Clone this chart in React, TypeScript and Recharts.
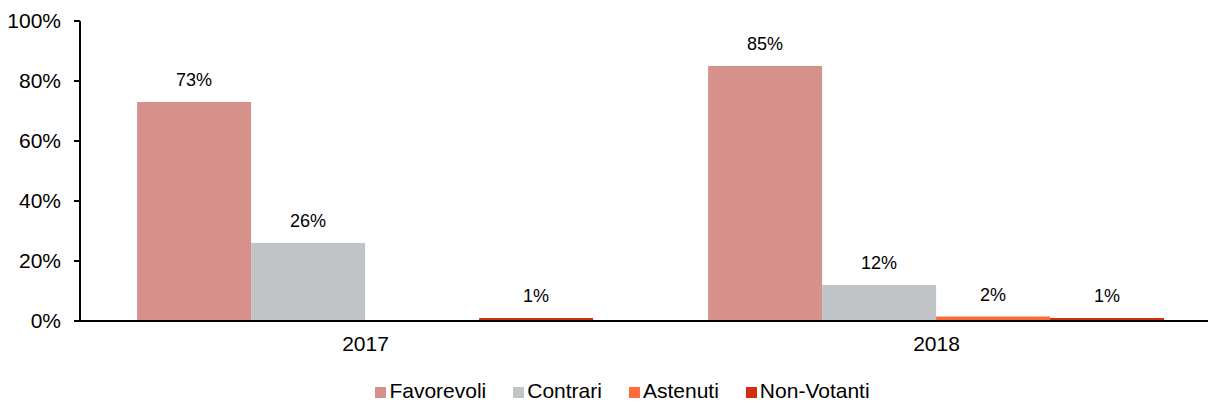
import { BarChart, Bar, XAxis, YAxis, Legend, LabelList } from 'recharts'

const years = ['2017', '2018']
const favorevoli = [73, 85]
const contrari = [26, 12]
const astenuti = [0, 1.5]
const nonVotanti = [1, 1]
const yTicks = [0, 20, 40, 60, 80, 100]

const series = [
  { key: 'favorevoli', name: 'Favorevoli', color: '#D6928A' },
  { key: 'contrari', name: 'Contrari', color: '#C0C4C6' },
  { key: 'astenuti', name: 'Astenuti', color: '#FF6B3A' },
  { key: 'nonVotanti', name: 'Non-Votanti', color: '#D2300C' },
]

const data = years.map((year, i) => ({
  year,
  favorevoli: favorevoli[i],
  contrari: contrari[i],
  astenuti: astenuti[i],
  nonVotanti: nonVotanti[i],
}))

const font = 'Arial, "Liberation Sans", sans-serif'

const pct = (v: unknown) => {
  const n = Number(v)
  return n > 0 ? `${Math.round(n)}%` : ''
}

// legend drawn by hand so the spacing between items matches
function LegendContent() {
  return (
    <div
      style={{
        display: 'flex',
        justifyContent: 'center',
        gap: 27,
        height: 24,
        alignItems: 'center',
        fontFamily: font,
        fontSize: 21,
        color: '#000',
        paddingLeft: 23,
      }}
    >
      {series.map((s) => (
        <div key={s.key} style={{ display: 'flex', alignItems: 'center' }}>
          <span style={{ width: 11, height: 11, background: s.color, marginRight: 3, marginTop: 3 }} />
          <span>{s.name}</span>
        </div>
      ))}
    </div>
  )
}

export default function App() {
  return (
    <div style={{ position: 'absolute', left: 0, top: 0, width: 1208, height: 403, overflow: 'hidden', background: '#fff' }}>
      <BarChart
        width={1222}
        height={403}
        data={data}
        margin={{ top: 21, right: 0, left: 0, bottom: 0 }}
        barCategoryGap="10%"
        barGap={0}
      >
        <XAxis
          dataKey="year"
          height={58}
          tickLine={false}
          tickSize={0}
          tickMargin={15}
          axisLine={{ stroke: '#000', strokeWidth: 2 }}
          tick={{ fontSize: 21, fill: '#000', fontFamily: font }}
        />
        <YAxis
          width={80}
          domain={[0, 100]}
          ticks={yTicks}
          tickFormatter={(v) => `${v}%`}
          tickSize={6}
          tickMargin={13}
          axisLine={{ stroke: '#000', strokeWidth: 2 }}
          tickLine={{ stroke: '#000', strokeWidth: 2 }}
          tick={{ fontSize: 21, fill: '#000', fontFamily: font }}
        />
        <Legend verticalAlign="bottom" height={24} content={() => <LegendContent />} />
        {series.map((s) => (
          <Bar key={s.key} dataKey={s.key} name={s.name} fill={s.color} isAnimationActive={false}>
            <LabelList
              dataKey={s.key}
              position="top"
              offset={16}
              formatter={pct}
              style={{ fontSize: 18, fill: '#000', fontFamily: font }}
            />
          </Bar>
        ))}
      </BarChart>
    </div>
  )
}
